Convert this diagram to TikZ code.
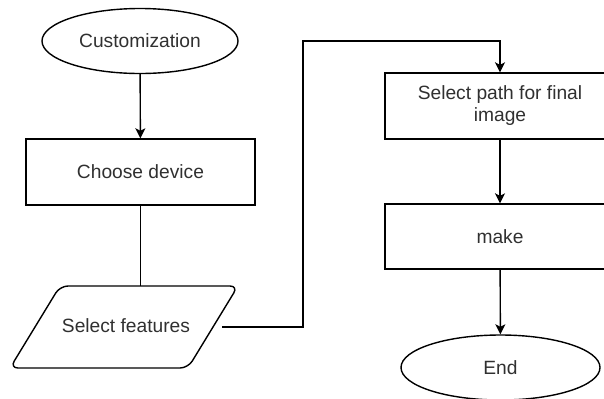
\documentclass[tikz,border=0pt]{standalone}
\usepackage{fontspec}
\setmainfont{Liberation Sans}
\usetikzlibrary{shapes.geometric,arrows.meta}
\definecolor{txt}{HTML}{303030}
\tikzset{
  box/.style={draw=black, line width=1.4bp, rectangle, minimum width=229bp, minimum height=66bp, inner sep=0pt, text=txt, align=center},
  terminal/.style={draw=black, line width=1.4bp, ellipse, inner sep=0pt, text=txt},
  link/.style={draw=black, line width=1.4bp},
  arr/.style={link, -{Stealth[length=10bp,width=10bp,inset=2.5bp]}},
  lbl/.style={font=\fontsize{19.2bp}{22bp}\selectfont}
}
\begin{document}
\begin{tikzpicture}[x=1bp,y=-1bp,every node/.style={lbl}]
\useasboundingbox (0,0) rectangle (604,398);

% left column
\node[terminal, minimum width=196bp, minimum height=65bp] (start) at (140,41) {Customization};
\node[box] (choose) at (140.5,172) {Choose device};

% input parallelogram
\draw[link, rounded corners=8bp] (10,368) -- (60,286) -- (238,286) -- (188,368) -- cycle;
\node[text=txt] (feat) at (126,326) {Select features};
\coordinate (featin) at (140.5,286);
\coordinate (featout) at (222,327);

% right column
\node[box, minimum width=230bp] (path) at (500,106) {Select path for final\\image};
\node[box, minimum width=230bp, minimum height=65bp] (make) at (500,236.5) {make};
\node[terminal, minimum width=199bp, minimum height=65bp] (end) at (500.5,367.5) {End};

% connectors
\draw[arr] (start) -- (choose);
\draw[link] (choose.south) -- (featin);
\draw[arr] (featout) -| (303,41) -| (path.north);
\draw[arr] (path) -- (make);
\draw[arr] (make) -- (end);
\end{tikzpicture}
\end{document}
